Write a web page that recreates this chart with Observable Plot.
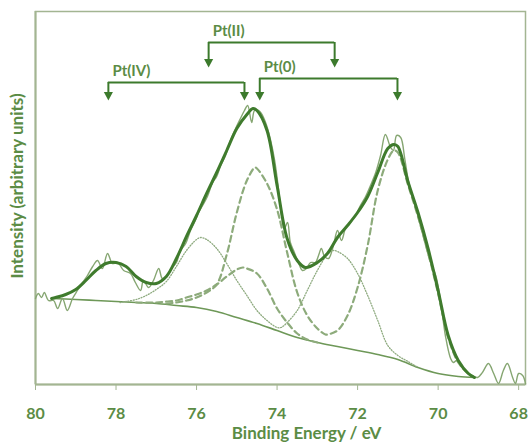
<!DOCTYPE html>
<html><head><meta charset="utf-8">
<script src="https://cdn.jsdelivr.net/npm/d3@7"></script>
<script src="https://cdn.jsdelivr.net/npm/@observablehq/plot@0.6"></script>
<style>html,body{margin:0;padding:0;background:#fff;} #chart svg{display:block;}</style>
</head><body><div id="chart"></div>
<script>
// Binding energy (eV) vs intensity (arbitrary units)
const xTicks = [80, 78, 76, 74, 72, 70, 68];

const raw = [[80.00,86],[79.93,91],[79.85,87],[79.78,92],[79.68,84],[79.55,84],[79.45,76],[79.33,86],[79.21,74],[79.08,86],[78.96,94],[78.83,102],[78.71,109],[78.58,118],[78.46,124],[78.34,116],[78.21,131],[78.09,121],[77.96,122],[77.81,114],[77.64,111],[77.52,102],[77.39,94],[77.32,104],[77.19,97],[77.07,104],[76.94,116],[76.85,106],[76.75,108],[76.62,116],[76.50,122],[76.40,134],[76.27,141],[76.15,154],[76.03,164],[75.95,172],[75.85,179],[75.73,188],[75.60,202],[75.50,208],[75.40,219],[75.28,229],[75.16,244],[75.03,256],[74.91,266],[74.81,274],[74.73,279],[74.63,262],[74.56,274],[74.46,274],[74.36,269],[74.26,259],[74.16,244],[74.06,224],[73.96,194],[73.89,169],[73.82,156],[73.74,162],[73.67,142],[73.57,132],[73.47,122],[73.37,114],[73.27,116],[73.17,122],[73.05,122],[72.97,129],[72.90,136],[72.82,128],[72.72,126],[72.60,139],[72.50,154],[72.40,144],[72.30,156],[72.18,162],[72.05,169],[71.93,179],[71.80,188],[71.68,199],[71.55,212],[71.43,229],[71.31,250],[71.18,237],[71.11,234],[71.03,249],[70.93,247],[70.83,226],[70.74,204],[70.64,188],[70.54,174],[70.44,159],[70.31,139],[70.19,122],[70.06,109],[69.94,84],[69.82,49],[69.69,26],[69.62,22],[69.54,24],[69.44,19],[69.29,12],[69.15,9],[69.02,7],[68.90,12],[68.75,21],[68.62,11],[68.50,1],[68.38,14],[68.28,21],[68.15,7],[68.08,1],[68.00,11],[67.90,9],[67.83,1]];

const envelope = [[79.60,86],[79.50,87],[79.25,90],[79.00,95],[78.75,104],[78.50,114],[78.25,121],[78.00,122],[77.75,118],[77.50,108],[77.25,102],[77.00,101],[76.75,108],[76.50,126],[76.25,148],[76.00,169],[75.75,191],[75.50,212],[75.25,234],[75.00,256],[74.75,270],[74.60,276],[74.50,274],[74.25,254],[74.00,199],[73.75,146],[73.50,124],[73.30,117],[73.00,122],[72.75,131],[72.50,147],[72.25,159],[72.00,172],[71.75,188],[71.50,212],[71.25,236],[71.10,240],[71.00,238],[70.75,203],[70.50,172],[70.25,136],[70.00,94],[69.75,49],[69.50,24],[69.25,11],[69.10,7]];

const background = [[79.60,86],[79.00,85],[78.50,84],[78.00,83],[77.50,82],[77.00,81],[76.50,79],[76.00,77],[75.50,73],[75.00,67],[74.50,61],[74.00,54],[73.50,47],[73.00,42],[72.50,38],[72.00,34],[71.50,30],[71.00,25],[70.50,17],[70.00,11],[69.50,8],[69.10,7]];

const ptII = [[77.90,82],[77.75,83],[77.50,85],[77.25,89],[77.00,95],[76.75,103],[76.50,118],[76.25,134],[76.00,145],[75.90,147],[75.75,145],[75.50,136],[75.25,121],[75.00,104],[74.75,89],[74.50,74],[74.25,64],[74.00,57],[73.90,57],[73.75,62],[73.50,74],[73.25,94],[73.00,114],[72.75,130],[72.60,134],[72.50,133],[72.25,126],[72.00,111],[71.75,89],[71.50,64],[71.25,39],[71.00,29],[70.75,23],[70.50,17]];

const pt0 = [[76.75,81],[76.50,82],[76.25,84],[76.00,87],[75.75,92],[75.50,100],[75.25,130],[75.00,172],[74.75,204],[74.55,217],[74.50,216],[74.25,201],[74.00,175],[73.75,132],[73.50,92],[73.25,69],[73.00,56],[72.80,50],[72.75,50],[72.50,54],[72.25,69],[72.00,97],[71.75,139],[71.50,194],[71.25,225],[71.10,234],[71.00,232],[70.75,200],[70.50,168],[70.25,132],[70.00,91],[69.75,47],[69.50,22],[69.25,11],[69.10,7]];

const ptIV = [[77.50,82],[77.00,82],[76.75,83],[76.50,84],[76.25,87],[76.00,90],[75.75,94],[75.50,100],[75.25,108],[75.00,115],[74.85,117],[74.75,116],[74.50,111],[74.25,96],[74.00,76],[73.75,62],[73.50,51],[73.25,45],[73.00,42]];

// Annotation brackets
const annotLabels = ["Pt(IV)", "Pt(II)", "Pt(0)"];
const annotLeft = [78.19, 75.70, 74.43];
const annotRight = [74.81, 72.57, 71.01];
const annotBar = [302, 342, 306];
const annotTip = [284, 317, 284];

const annots = annotLabels.map((label, i) => ({label, left: annotLeft[i], right: annotRight[i], bar: annotBar[i], tip: annotTip[i]}));
const arrows = annots.flatMap(a => [{x: a.left, bar: a.bar, tip: a.tip}, {x: a.right, bar: a.bar, tip: a.tip}]);

const axisColor = "#a3b592";
const textColor = "#5b8c45";
const envColor = "#3f7b2d";
const rawColor = "#86a672";
const compColor = "#8dab7b";
const dotColor = "#8fab80";
const bgColor = "#6e9858";
const arrowColor = "#3c7a2c";

const triangleDown = {
  draw(ctx, size) {
    const r = Math.sqrt(size / Math.PI);
    ctx.moveTo(-r * 1.2, -r * 1.1);
    ctx.lineTo(r * 1.2, -r * 1.1);
    ctx.lineTo(0, r * 1.1);
    ctx.closePath();
  }
};

const X = d => d[0], Y = d => d[1];

const chart = Plot.plot({
  width: 531,
  height: 444,
  marginLeft: 35,
  marginRight: 6,
  marginTop: 11,
  marginBottom: 60,
  style: {fontFamily: "Lato, 'Open Sans', sans-serif", background: "white"},
  x: {domain: [80, 67.83]},
  y: {domain: [0, 373], axis: null},
  marks: [
    Plot.frame({stroke: axisColor, strokeWidth: 1.5}),
    Plot.ruleX([80], {stroke: axisColor, strokeWidth: 2}),
    Plot.ruleY([0], {stroke: axisColor, strokeWidth: 2.2}),
    Plot.line(background, {x: X, y: Y, stroke: bgColor, strokeWidth: 1.6, curve: "catmull-rom"}),
    Plot.line(ptII, {x: X, y: Y, stroke: dotColor, strokeWidth: 1.3, strokeDasharray: "1,1.7", curve: "catmull-rom"}),
    Plot.line(pt0, {x: X, y: Y, stroke: compColor, strokeWidth: 2.2, strokeDasharray: "6,4", curve: "catmull-rom"}),
    Plot.line(ptIV, {x: X, y: Y, stroke: compColor, strokeWidth: 2.2, strokeDasharray: "6,4", curve: "catmull-rom"}),
    Plot.line(raw, {x: X, y: Y, stroke: rawColor, strokeWidth: 1.4, curve: "catmull-rom"}),
    Plot.line(envelope, {x: X, y: Y, stroke: envColor, strokeWidth: 3, curve: "catmull-rom"}),
    // brackets
    Plot.ruleY(annots, {y: "bar", x1: "left", x2: "right", stroke: arrowColor, strokeWidth: 2}),
    Plot.ruleX(arrows, {x: "x", y1: "bar", y2: "tip", stroke: arrowColor, strokeWidth: 2, insetBottom: 6}),
    Plot.dot(arrows, {x: "x", y: "tip", symbol: triangleDown, r: 3.8, fill: arrowColor, stroke: null, dy: -4.2}),
    Plot.text(annots, {x: "left", y: "bar", text: "label", textAnchor: "start", dx: 4, dy: -11, fontSize: 15, fontWeight: "bold", fill: textColor}),
    // axes
    Plot.axisX({ticks: xTicks, tickSize: 6, tickPadding: 17, fontSize: 16, fontWeight: "bold", stroke: axisColor, fill: textColor, label: null}),
    Plot.text(["Binding Energy / eV"], {frameAnchor: "bottom", lineAnchor: "middle", textAnchor: "middle", dx: 26, dy: 49, fontSize: 17, fontWeight: "bold", fill: textColor}),
    Plot.text(["Intensity (arbitrary units)"], {frameAnchor: "left", lineAnchor: "middle", textAnchor: "middle", rotate: -90, dx: -18, dy: -12, fontSize: 17, fontWeight: "bold", fill: textColor})
  ]
});
document.getElementById("chart").appendChild(chart);
</script></body></html>
